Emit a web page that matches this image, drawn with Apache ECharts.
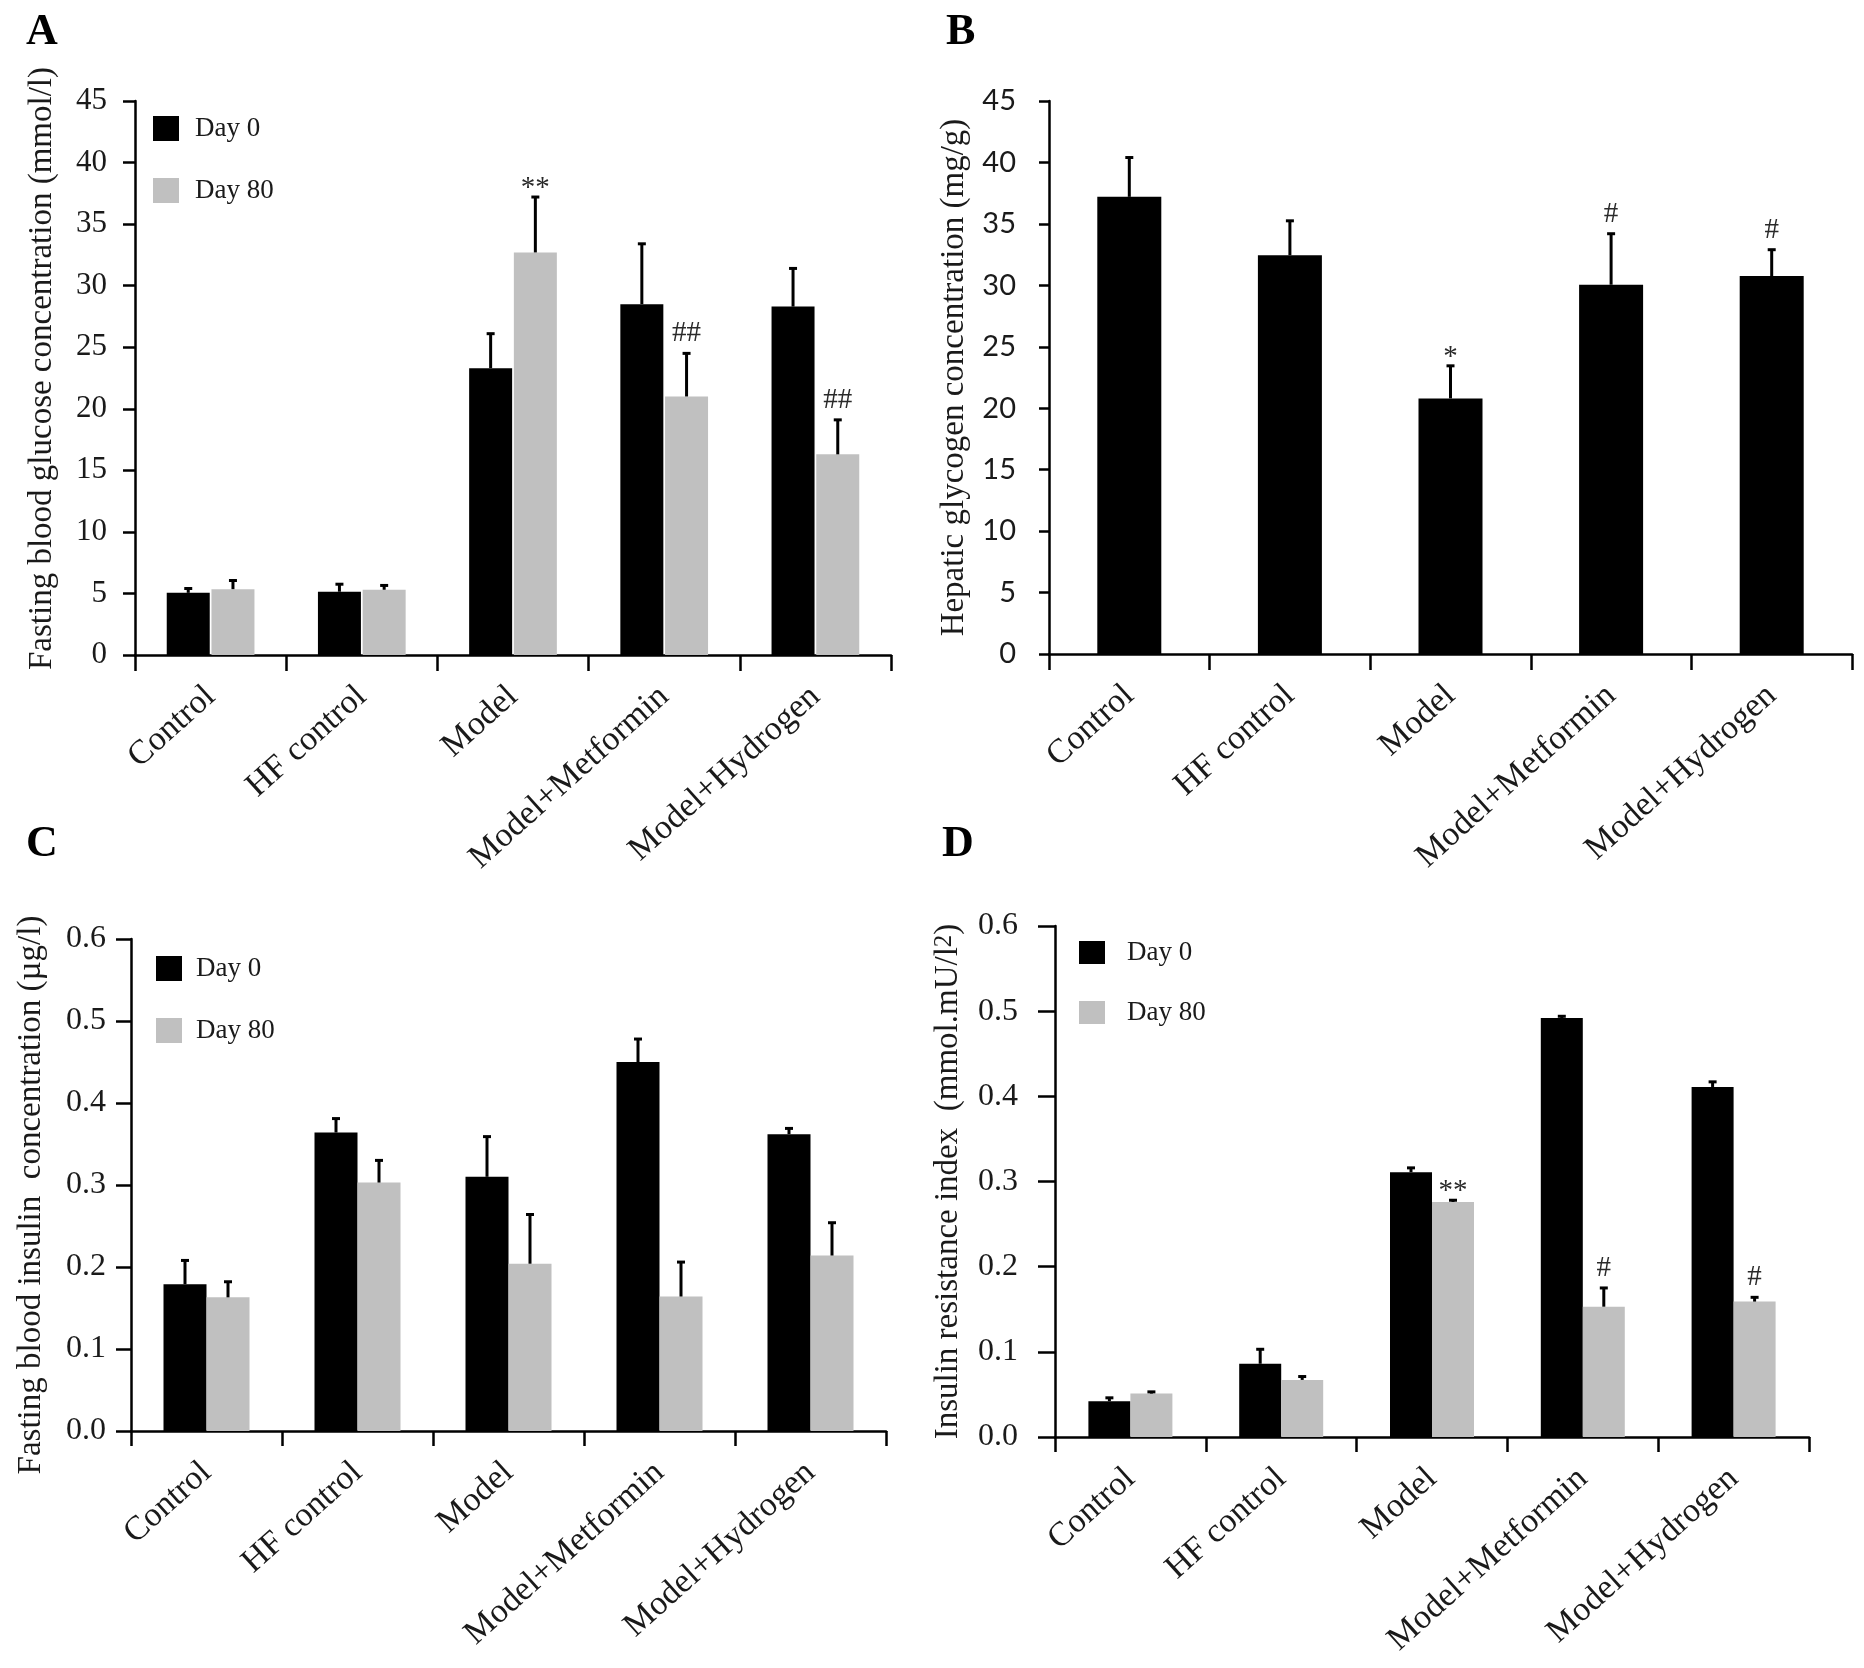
<!DOCTYPE html>
<html><head><meta charset="utf-8">
<script src="https://cdn.jsdelivr.net/npm/echarts@6/dist/echarts.min.js"></script>
<style>html,body{margin:0;padding:0;background:#fff}#c{width:1864px;height:1668px}</style>
</head><body><div id="c"></div>
<script>
// ---------- data ----------
const categories = ['Control', 'HF control', 'Model', 'Model+Metformin', 'Model+Hydrogen'];
const seriesNames = ['Day 0', 'Day 80'];

// Panel A: fasting blood glucose (mmol/l)
const glucoseDay0 = [5.05, 5.14, 23.3, 28.5, 28.3];
const glucoseDay0Err = [5.4, 5.75, 26.1, 33.4, 31.4];
const glucoseDay80 = [5.35, 5.3, 32.7, 21.0, 16.3];
const glucoseDay80Err = [6.05, 5.65, 37.2, 24.5, 19.1];
const glucoseDay80Sig = ['', '', '**', '##', '##'];

// Panel B: hepatic glycogen (mg/g)
const glycogen = [37.2, 32.45, 20.8, 30.05, 30.75];
const glycogenErr = [40.4, 35.25, 23.45, 34.2, 32.9];
const glycogenSig = ['', '', '*', '#', '#'];

// Panel C: fasting blood insulin (µg/l)
const insulinDay0 = [0.179, 0.364, 0.310, 0.450, 0.362];
const insulinDay0Err = [0.208, 0.381, 0.359, 0.478, 0.369];
const insulinDay80 = [0.163, 0.303, 0.204, 0.164, 0.214];
const insulinDay80Err = [0.182, 0.330, 0.264, 0.206, 0.254];

// Panel D: insulin resistance index
const homaDay0 = [0.042, 0.086, 0.311, 0.492, 0.411];
const homaDay0Err = [0.046, 0.103, 0.316, 0.494, 0.417];
const homaDay80 = [0.051, 0.067, 0.276, 0.153, 0.159];
const homaDay80Err = [0.053, 0.071, 0.278, 0.175, 0.164];
const homaDay80Sig = ['', '', '**', '#', '#'];

// axis ranges
const yMaxAB = 45, yStepAB = 5;
const yMaxCD = 0.6, yStepCD = 0.1;

// ---------- style ----------
const SERIF = '"Liberation Serif", "Times New Roman", serif';
const SANS = 'Lato, "Open Sans", sans-serif';
const BLACK = '#000000';
const GREY = '#c0c0c0';
const TXT = '#1a1a1a';

const grids = [
  { left: 135, top: 101, width: 756, height: 554 },   // A
  { left: 1049, top: 101, width: 803, height: 553 },  // B
  { left: 131, top: 939, width: 755, height: 492 },   // C
  { left: 1055, top: 926, width: 754, height: 511 }   // D
].map(g => Object.assign({ containLabel: false, outerBoundsMode: 'none' }, g));

function xAxis(gridIndex, tickLen) {
  return {
    type: 'category', gridIndex, data: categories, boundaryGap: true,
    axisLine: { show: true, lineStyle: { color: BLACK, width: 2.5 } },
    axisTick: { show: true, interval: 0, length: tickLen, lineStyle: { color: BLACK, width: 2.5 } },
    axisLabel: { interval: 0, rotate: 42, margin: 37, hideOverlap: false,
      fontFamily: SERIF, fontSize: 34, color: TXT },
    splitLine: { show: false }
  };
}
function yAxis(gridIndex, max, step, name, nameGap, opts) {
  return {
    type: 'value', gridIndex, min: 0, max, interval: step,
    name, nameLocation: 'middle', nameGap,
    nameTextStyle: Object.assign({ fontFamily: SERIF, fontSize: 33, color: TXT }, opts.nameStyle || {}),
    axisLine: { show: true, lineStyle: { color: BLACK, width: 2.5 } },
    axisTick: { show: true, length: opts.tickLen, lineStyle: { color: BLACK, width: 2.5 } },
    axisLabel: { margin: opts.labelMargin, fontFamily: opts.sans ? SANS : SERIF,
      fontSize: opts.labelSize, color: TXT, hideOverlap: false,
      formatter: opts.fixed ? (v => v.toFixed(1)) : (v => String(v)) },
    splitLine: { show: false }
  };
}

function barSeries(name, gi, data, color, bw, gap) {
  return { name, type: 'bar', xAxisIndex: gi, yAxisIndex: gi, data, barWidth: bw,
    barGap: gap, itemStyle: { color }, silent: true, z: 2 };
}
function errSeries(gi, vals, errs, sigs, offset) {
  return {
    name: 'err', type: 'custom', xAxisIndex: gi, yAxisIndex: gi, z: 5, silent: true,
    data: vals.map((v, i) => [i, v, errs[i]]),
    encode: { x: 0, y: [1, 2] },
    renderItem(params, api) {
      const i = api.value(0);
      const p0 = api.coord([i, api.value(1)]);
      const p1 = api.coord([i, api.value(2)]);
      const x = p0[0] + offset;
      const children = [
        { type: 'line', shape: { x1: x, y1: p0[1], x2: x, y2: p1[1] }, style: { stroke: BLACK, lineWidth: 3 } },
        { type: 'line', shape: { x1: x - 4, y1: p1[1], x2: x + 4, y2: p1[1] }, style: { stroke: BLACK, lineWidth: 3 } }
      ];
      const sig = sigs ? sigs[params.dataIndex] : '';
      if (sig) {
        const star = sig.indexOf('*') >= 0;
        children.push({ type: 'text', x: x, y: p1[1] + (star ? 6 : -5),
          style: { text: sig, fontFamily: SERIF, fontSize: 29, fill: '#2a2a2a',
            textAlign: 'center', textVerticalAlign: 'bottom' } });
      }
      return { type: 'group', children };
    }
  };
}
function legend(left, top, gap, ih, textGap) {
  return { data: seriesNames, orient: 'vertical', left, top, padding: 0,
    itemWidth: 26, itemHeight: ih, itemGap: gap, icon: 'rect', selectedMode: false,
    textStyle: { fontFamily: SERIF, fontSize: 27, color: TXT, padding: [0, 0, 0, textGap] } };
}

const bwA = 43, bwB = 64, bwC = 43, bwD = 42;

const option = {
  animation: false,
  backgroundColor: '#ffffff',
  grid: grids,
  xAxis: [xAxis(0, 16), xAxis(1, 16), xAxis(2, 15), xAxis(3, 15)],
  yAxis: [
    yAxis(0, yMaxAB, yStepAB, 'Fasting blood glucose concentration (mmol/l)', 76,
      { tickLen: 12, labelMargin: 28, labelSize: 31, nameStyle: { padding: [0, 0, 0, 19] } }),
    yAxis(1, yMaxAB, yStepAB, 'Hepatic glycogen concentration (mg/g)', 78,
      { sans: true, tickLen: 10, labelMargin: 33, labelSize: 29 }),
    yAxis(2, yMaxCD, yStepCD, 'Fasting blood insulin  concentration (µg/l)', 83,
      { fixed: true, tickLen: 15, labelMargin: 25, labelSize: 32, nameStyle: { padding: [0, 20, 0, 0] } }),
    yAxis(3, yMaxCD, yStepCD, 'Insulin resistance index  (mmol.mU/l{sup|2})', 90,
      { fixed: true, tickLen: 17, labelMargin: 37, labelSize: 32,
        nameStyle: { rich: { sup: { fontFamily: SERIF, fontSize: 25, color: TXT, verticalAlign: 'top', lineHeight: 33, padding: [0, 0, 8, 0] } } } })
  ],
  legend: [legend(153, 115, 35, 25, 11), legend(156, 955, 35, 25, 9), legend(1079, 939, 33, 23, 17)],
  series: [
    barSeries('Day 0', 0, glucoseDay0, BLACK, bwA, '4%'),
    barSeries('Day 80', 0, glucoseDay80, GREY, bwA, '4%'),
    errSeries(0, glucoseDay0, glucoseDay0Err, null, -bwA * 1.04 / 2),
    errSeries(0, glucoseDay80, glucoseDay80Err, glucoseDay80Sig, bwA * 1.04 / 2),

    barSeries('Glycogen', 1, glycogen, BLACK, bwB, '0%'),
    errSeries(1, glycogen, glycogenErr, glycogenSig, 0),

    barSeries('Day 0', 2, insulinDay0, BLACK, bwC, '0%'),
    barSeries('Day 80', 2, insulinDay80, GREY, bwC, '0%'),
    errSeries(2, insulinDay0, insulinDay0Err, null, -bwC / 2),
    errSeries(2, insulinDay80, insulinDay80Err, null, bwC / 2),

    barSeries('Day 0', 3, homaDay0, BLACK, bwD, '0%'),
    barSeries('Day 80', 3, homaDay80, GREY, bwD, '0%'),
    errSeries(3, homaDay0, homaDay0Err, null, -bwD / 2),
    errSeries(3, homaDay80, homaDay80Err, homaDay80Sig, bwD / 2)
  ],
  graphic: [
    { type: 'text', left: 26, top: 11, style: { text: 'A', font: 'bold 44px "Liberation Serif"', fill: BLACK } },
    { type: 'text', left: 946, top: 11, style: { text: 'B', font: 'bold 44px "Liberation Serif"', fill: BLACK } },
    { type: 'text', left: 26, top: 823, style: { text: 'C', font: 'bold 44px "Liberation Serif"', fill: BLACK } },
    { type: 'text', left: 942, top: 823, style: { text: 'D', font: 'bold 44px "Liberation Serif"', fill: BLACK } }
  ]
};

const chart = echarts.init(document.getElementById('c'), null, { renderer: 'canvas' });
chart.setOption(option);
</script>
</body></html>
